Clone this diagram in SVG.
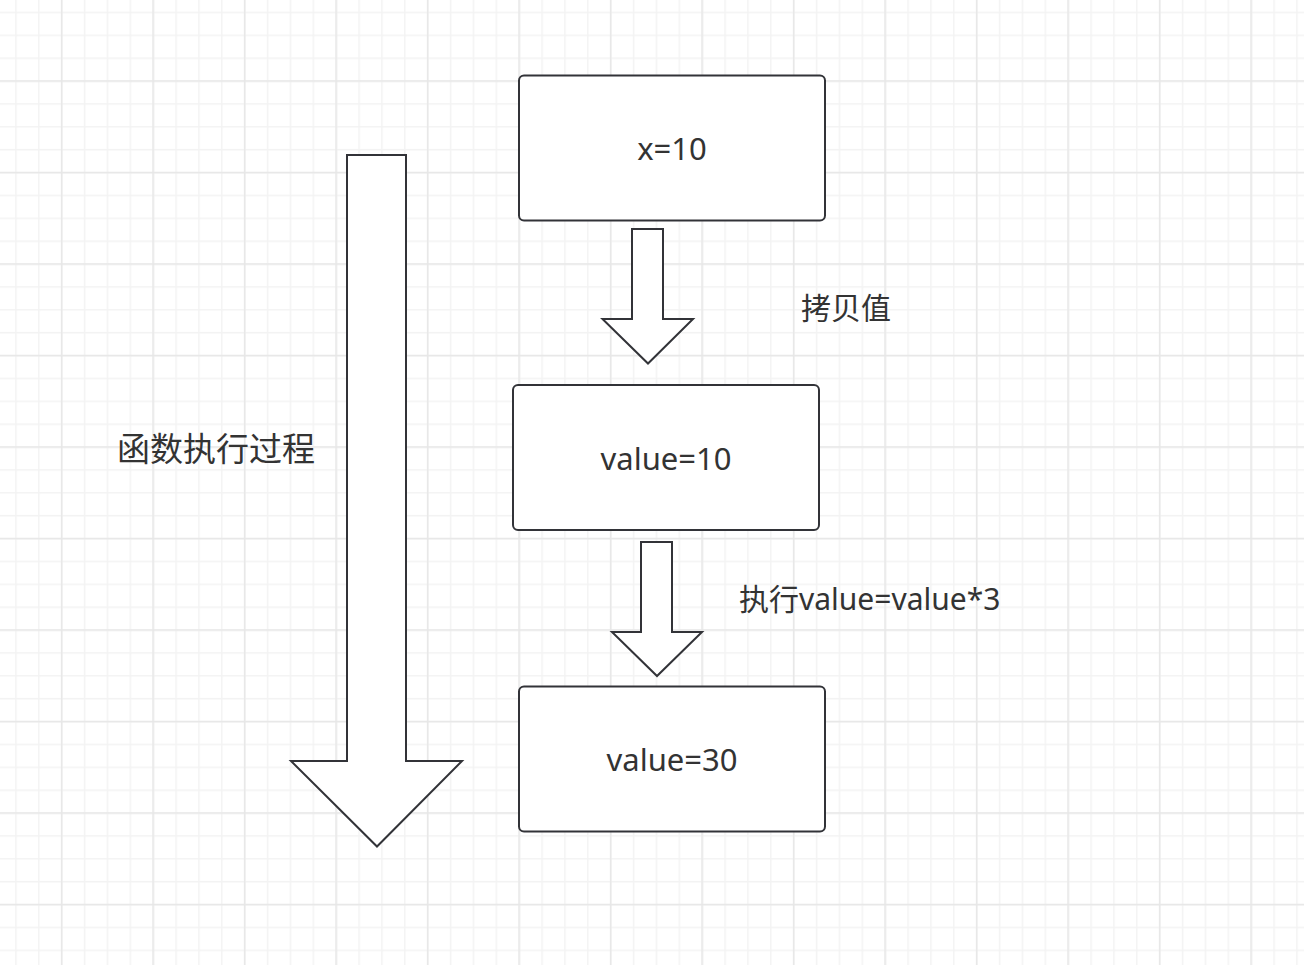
<svg xmlns="http://www.w3.org/2000/svg" width="1304" height="965" viewBox="0 0 1304 965">
  <style>
    .box { fill: #ffffff; stroke: #323338; stroke-width: 2; }
    .arrow { fill: #ffffff; stroke: #323338; stroke-width: 2; stroke-linejoin: miter; }
    .t { font-family: 'Noto Sans', 'Noto Sans CJK SC', sans-serif; fill: #333333; }
  </style>
  <defs>
    <pattern id="minor" patternUnits="userSpaceOnUse" x="15.2" y="11.7" width="22.875" height="22.875">
      <rect x="0" y="0" width="1.5" height="22.875" fill="#f3f3f3"/>
      <rect x="0" y="0" width="22.875" height="1.5" fill="#f3f3f3"/>
    </pattern>
    <pattern id="major" patternUnits="userSpaceOnUse" x="60.9" y="80.3" width="91.5" height="91.5">
      <rect x="0" y="0" width="1.5" height="91.5" fill="#e7e7e7"/>
      <rect x="0" y="0" width="91.5" height="1.5" fill="#e7e7e7"/>
    </pattern>
  </defs>
  <rect width="1304" height="965" fill="#ffffff"/>
  <rect width="1304" height="965" fill="url(#minor)"/>
  <rect width="1304" height="965" fill="url(#major)"/>

  <g id="connectors">
    <path id="arrow-process" class="arrow" d="M347,155 H406 V761 H462 L377,846.5 L291,761 H347 Z"/>
    <path id="arrow-copy" class="arrow" d="M632,229 H663 V319 H693 L648,363.5 L602.5,319 H632 Z"/>
    <path id="arrow-exec" class="arrow" d="M641,542 H672 V632 H702 L657,676 L612,632 H641 Z"/>
  </g>

  <g id="node-x">
    <rect class="box" x="519" y="75.5" width="306" height="145" rx="5"/>
    <text class="t" x="672" y="160" font-size="31" text-anchor="middle">x=10</text>
  </g>
  <g id="node-value10">
    <rect class="box" x="513" y="385" width="306" height="145" rx="5"/>
    <text class="t" x="666" y="470" font-size="31" text-anchor="middle">value=10</text>
  </g>
  <g id="node-value30">
    <rect class="box" x="519" y="686.5" width="306" height="145" rx="5"/>
    <text class="t" x="672" y="771" font-size="31" text-anchor="middle">value=30</text>
  </g>

  <g id="label-copy">
    <text class="t" x="801" y="319" font-size="30">拷贝值</text>
  </g>
  <g id="label-exec">
    <text class="t" x="739" y="610" font-size="30">执行value=value*3</text>
  </g>
  <g id="label-process">
    <text class="t" x="117" y="461" font-size="33">函数执行过程</text>
  </g>
</svg>
